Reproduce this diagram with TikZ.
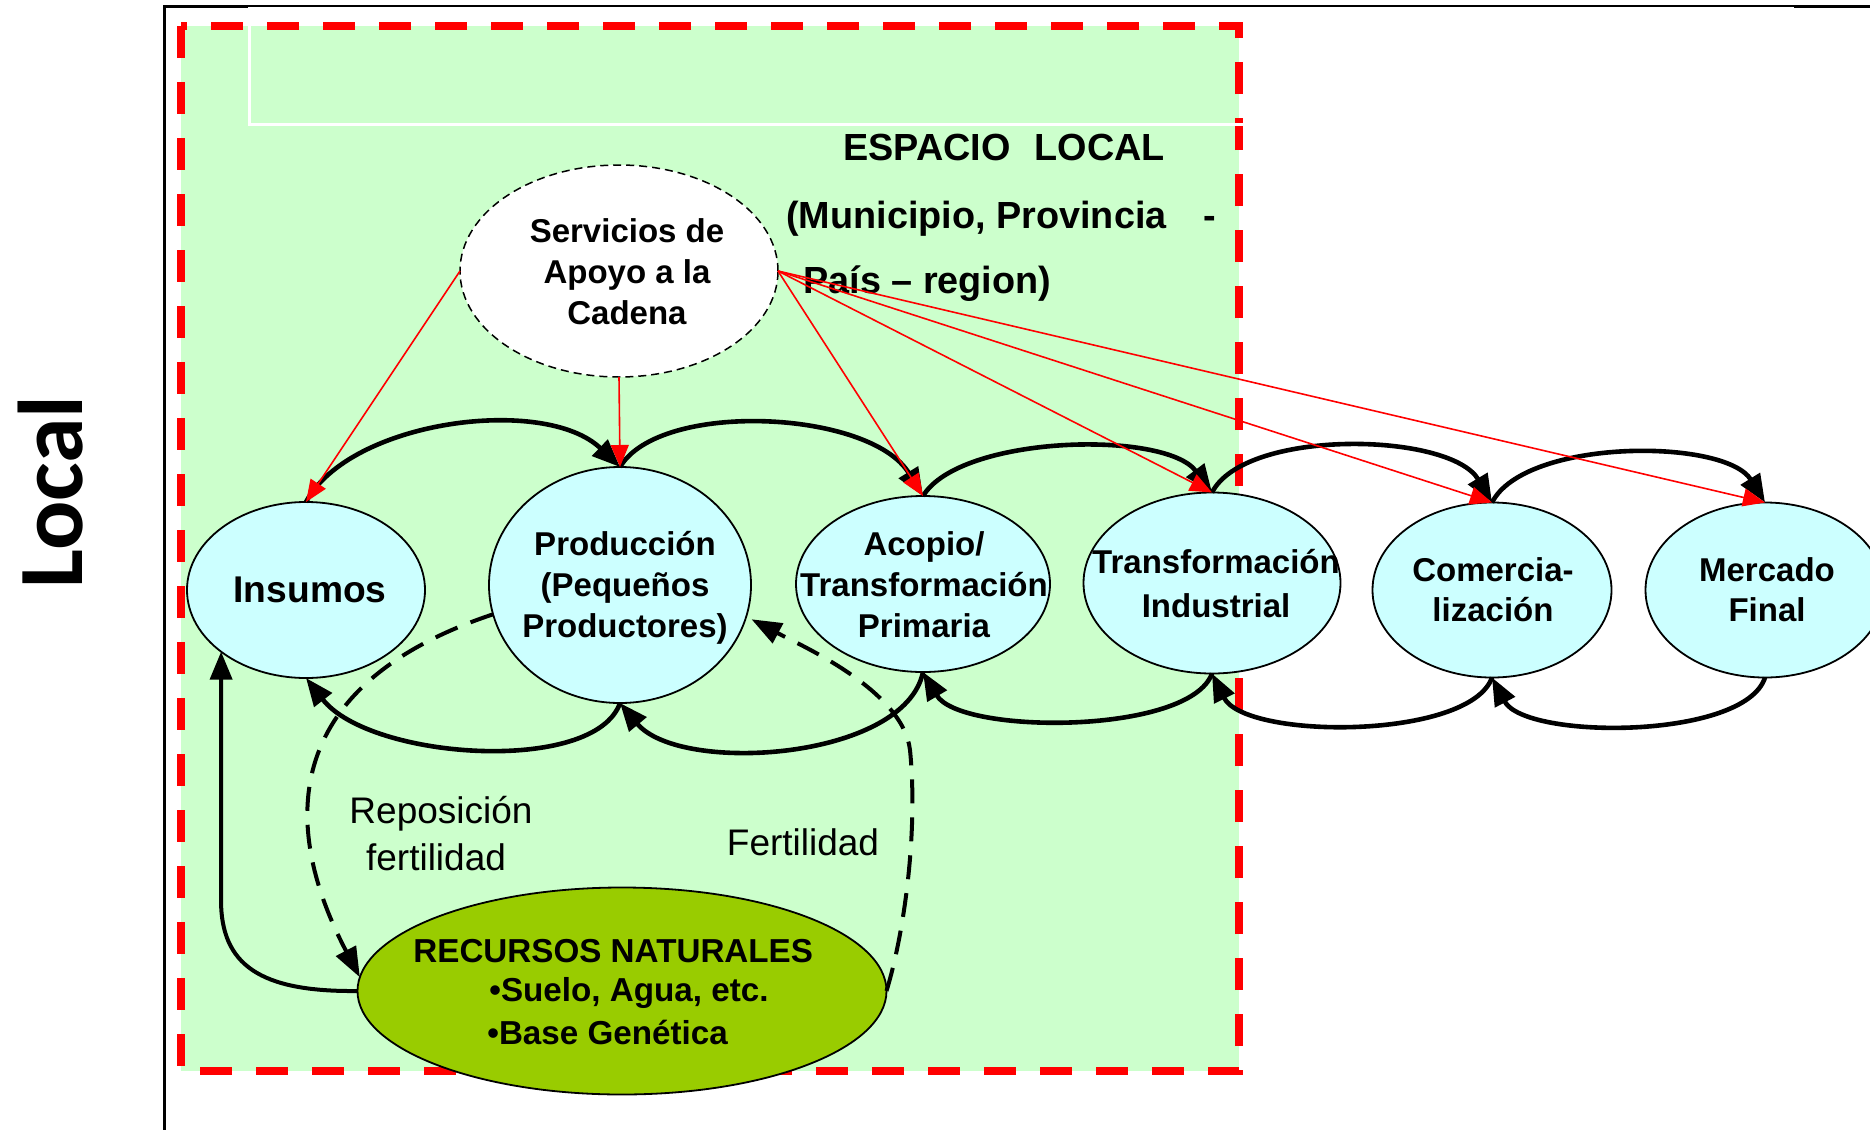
\documentclass[tikz,border=0pt]{standalone}
\usepackage{fontspec}
\setmainfont{Liberation Sans}
\newfontfamily\calib{Carlito}
\usetikzlibrary{arrows.meta,shapes.geometric}
\definecolor{bggreen}{RGB}{204,255,204}
\definecolor{stagecyan}{RGB}{204,255,255}
\definecolor{recolive}{RGB}{153,204,0}
\begin{document}
\begin{tikzpicture}[x=0.5pt,y=-0.5pt,
  stage/.style={ellipse, draw=black, line width=0.9pt, fill=stagecyan, inner sep=0pt, outer sep=0pt},
  lbl/.style={font=\bfseries\fontsize{16.5pt}{20.5pt}\selectfont, align=center, inner sep=0pt},
  titletxt/.style={anchor=base west, font=\bfseries\fontsize{18.9pt}{22pt}\selectfont, inner sep=0pt},
  rectxt/.style={anchor=base west, font=\bfseries\fontsize{16.6pt}{20pt}\selectfont, inner sep=0pt},
  plaintxt/.style={anchor=base, font=\fontsize{18.5pt}{22pt}\selectfont, inner sep=0pt},
  flow/.style={line width=2.3pt, -{Triangle[length=14pt,width=11pt]}},
  support/.style={red, line width=0.8pt, -{Triangle[length=11pt,width=9pt]}},
  returnflow/.style={line width=2pt, dash pattern=on 12pt off 7pt, -{Triangle[length=15pt,width=11pt]}},
]
\useasboundingbox (0,0) rectangle (1870,1130);
\clip (0,0) rectangle (1870,1130);
\fill[white] (0,0) rectangle (1870,1130);

% frame
\draw[line width=1.7pt, line join=miter] (164.5,1130) -- (164.5,6.5) -- (1870,6.5);

% local space
\fill[bggreen] (181,26) rectangle (1239,1071);
\draw[red, line width=4pt, dash pattern=on 16pt off 12pt] (181,26) rectangle (1239,1071);
\draw[white, line width=1.5pt] (249,8.3) rectangle (1792,124);

% side label
\node[rotate=90, font=\calib\bfseries\fontsize{46pt}{50pt}\selectfont, inner sep=0pt] (loc) at (51,492) {Local};

% title
\node[titletxt] (esp) at (843,160) {ESPACIO\hspace{12pt}LOCAL};
\node[titletxt] (mun) at (786,228) {(Municipio, Provincia};
\node[titletxt] (mundash) at (1203,228) {-};
\node[titletxt] (pais) at (803,293) {País – region)};

% nodes
\node[ellipse, draw=black, line width=0.75pt, dash pattern=on 4pt off 2.5pt, fill=white, inner sep=0pt, outer sep=0pt,
      minimum width=159pt, minimum height=106pt] (serv) at (619,271) {};
\node[lbl] (servtxt) at (627,272) {Servicios de\\Apoyo a la\\Cadena};

\node[stage, minimum width=119pt, minimum height=88pt] (ins) at (306,590) {};
\node[stage, minimum width=131pt, minimum height=118pt] (prod) at (620,585) {};
\node[stage, minimum width=127pt, minimum height=88pt] (acop) at (923,584) {};
\node[stage, minimum width=128.5pt, minimum height=90.5pt] (trans) at (1212,583) {};
\node[stage, minimum width=119.5pt, minimum height=87.5pt] (com) at (1492,590) {};
\node[stage, minimum width=119.5pt, minimum height=87.5pt] (merc) at (1765,590) {};

\node[lbl, font=\bfseries\fontsize{18.6pt}{20pt}\selectfont] (instxt) at (310,590) {Insumos};
\node[lbl] (prodtxt) at (625,588) {Producción\\(Pequeños\\Productores)};
\node[lbl] (acoptxt) at (924,585) {Acopio/\\Transformación\\Primaria};
\node[lbl, font=\bfseries\fontsize{16.5pt}{22pt}\selectfont] (transtxt) at (1216,584) {Transformación\\Industrial};
\node[lbl, font=\bfseries\fontsize{16.5pt}{20pt}\selectfont] (comtxt) at (1493,590) {Comercia-\\lización};
\node[lbl, font=\bfseries\fontsize{16.5pt}{20pt}\selectfont] (merctxt) at (1767,590) {Mercado\\Final};

% upper flows
\draw[flow] (ins.north) .. controls (350,420) and (545,395) .. (prod.north);
\draw[flow] (prod.north) .. controls (660,400) and (870,410) .. (acop.north);
\draw[flow] (acop.north) .. controls (960,435) and (1165,430) .. (trans.north);
\draw[flow] (trans.north) .. controls (1245,428) and (1450,432) .. (com.north);
\draw[flow] (com.north) .. controls (1525,438) and (1725,438) .. (merc.north);

% lower flows
\draw[flow] (prod.south) .. controls (595,775) and (370,760) .. (ins.south);
\draw[flow] (acop.south) .. controls (905,760) and (680,775) .. (prod.south);
\draw[flow] (trans.south) .. controls (1190,735) and (960,735) .. (acop.south);
\draw[flow] (com.south) .. controls (1470,740) and (1245,740) .. (trans.south);
\draw[flow] (merc.south) .. controls (1745,740) and (1525,740) .. (com.south);

% support arrows
\draw[support] (serv.west) -- (ins.north);
\draw[support] (serv.south) -- (prod.north);
\draw[support] (serv.east) -- (acop.north);
\draw[support] (serv.east) -- (trans.north);
\draw[support] (serv.east) -- (com.north);
\draw[support] (serv.east) -- (merc.north);

% natural resources
\node[ellipse, draw=black, line width=0.9pt, fill=recolive, inner sep=0pt, outer sep=0pt,
      minimum width=264.5pt, minimum height=103.5pt] (rec) at (622,991) {};
\node[rectxt] (rec1) at (413,962) {RECURSOS NATURALES};
\node[rectxt] (rec2) at (489,1001) {•Suelo, Agua, etc.};
\node[rectxt] (rec3) at (487,1044) {•Base Genética};

\draw[flow, line width=2pt] (rec.west) .. controls (260,992) and (221,965) .. (221,900) -- (ins.216);
\draw[returnflow] (prod.193) .. controls (295,680) and (272,810) .. (rec.177);
\draw[returnflow, shorten >=3pt] (rec.east) .. controls (905,930) and (918,830) .. (910,750)
   .. controls (903,690) and (800,645) .. (prod.-14);

\node[plaintxt] (repo1) at (441,823) {Reposición};
\node[plaintxt] (repo2) at (436,870) {fertilidad};
\node[plaintxt] (fert) at (803,855) {Fertilidad};
\end{tikzpicture}
\end{document}
